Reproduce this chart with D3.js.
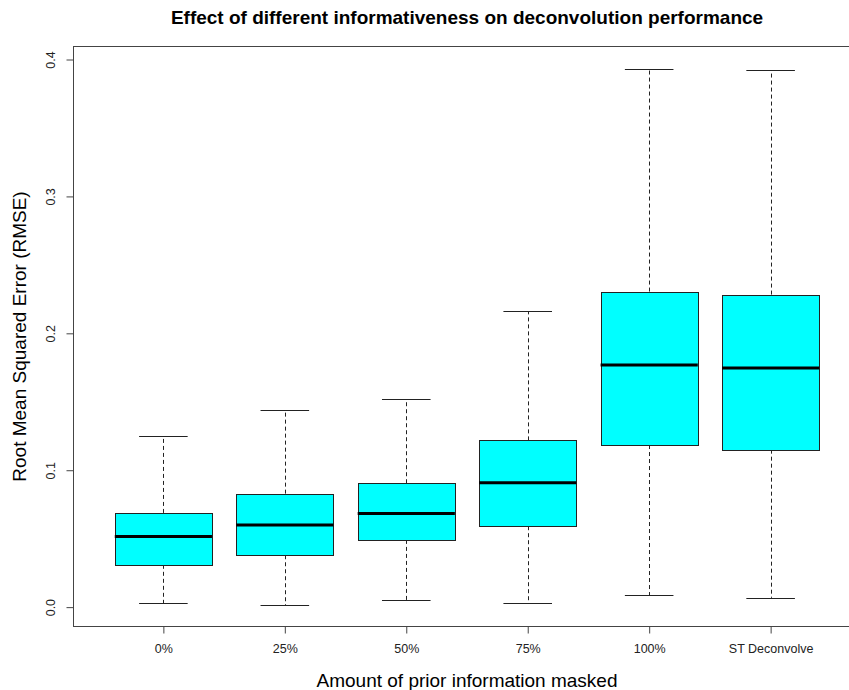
<!DOCTYPE html>
<html>
<head>
	<meta charset="utf-8">
	<title>Informativeness boxplot</title>
	<style>
		body { margin: 0; background: white; }
		svg text { font-family: "Liberation Sans", Arial, sans-serif; }
	</style>
</head>
<body>
<div id="chart"></div>

<script src="https://d3js.org/d3.v7.min.js"></script>
<script>

	// data
	var groups    = ['0%', '25%', '50%', '75%', '100%', 'ST Deconvolve'];
	var lowWhisk  = [0.0029, 0.0015, 0.0051, 0.0029, 0.0088, 0.0068];
	var q1        = [0.0309, 0.0379, 0.0491, 0.0591, 0.1184, 0.1150];
	var medians   = [0.0515, 0.0600, 0.0683, 0.0909, 0.1768, 0.1746];
	var q3        = [0.0688, 0.0829, 0.0905, 0.1218, 0.2305, 0.2283];
	var highWhisk = [0.1250, 0.1437, 0.1517, 0.2162, 0.3932, 0.3922];
	var yTicks    = [0.0, 0.1, 0.2, 0.3, 0.4];

	var width = 849;
	var height = 690;

	var plotLeft = 73.5, plotRight = 860.5, plotTop = 46.5, plotBottom = 626.5;

	var svg = d3.select('#chart')
		.append('svg')
		.attr('width', width)
		.attr('height', height);

	svg.append('rect')
		.attr('width', width)
		.attr('height', height)
		.attr('fill', 'white');

	// R style: group i sits at x = i, xlim 0.5..6.5 plus 4%
	var x = d3.scaleLinear()
		.domain([0.26, 6.74])
		.range([plotLeft, plotRight]);

	var y = d3.scaleLinear()
		.domain([-0.01415, 0.4095])
		.range([plotBottom, plotTop]);

	var boxes = groups.map(function(g, i){
		return {
			name: g,
			pos: i + 1,
			lo: lowWhisk[i],
			q1: q1[i],
			med: medians[i],
			q3: q3[i],
			hi: highWhisk[i]
		};
	});

	var halfBox = (x(1.4) - x(1)) ;
	var halfCap = halfBox / 2;

	var g = svg.append('g');

	var box = g.selectAll('.box')
		.data(boxes)
		.enter()
		.append('g')
		.attr('class', 'box');

	// whiskers (dashed)
	box.append('line')
		.attr('x1', function(d){ return Math.round(x(d.pos)) + 0.5 })
		.attr('x2', function(d){ return Math.round(x(d.pos)) + 0.5 })
		.attr('y1', function(d){ return y(d.q3) })
		.attr('y2', function(d){ return y(d.hi) })
		.attr('stroke', '#222')
		.attr('stroke-dasharray', '4,3');

	box.append('line')
		.attr('x1', function(d){ return Math.round(x(d.pos)) + 0.5 })
		.attr('x2', function(d){ return Math.round(x(d.pos)) + 0.5 })
		.attr('y1', function(d){ return y(d.q1) })
		.attr('y2', function(d){ return y(d.lo) })
		.attr('stroke', '#222')
		.attr('stroke-dasharray', '4,3');

	// staples
	box.append('line')
		.attr('x1', function(d){ return x(d.pos) - halfCap })
		.attr('x2', function(d){ return x(d.pos) + halfCap })
		.attr('y1', function(d){ return Math.round(y(d.hi)) + 0.5 })
		.attr('y2', function(d){ return Math.round(y(d.hi)) + 0.5 })
		.attr('stroke', '#222');

	box.append('line')
		.attr('x1', function(d){ return x(d.pos) - halfCap })
		.attr('x2', function(d){ return x(d.pos) + halfCap })
		.attr('y1', function(d){ return Math.round(y(d.lo)) + 0.5 })
		.attr('y2', function(d){ return Math.round(y(d.lo)) + 0.5 })
		.attr('stroke', '#222');

	// box
	box.append('rect')
		.attr('x', function(d){ return Math.round(x(d.pos) - halfBox) + 0.5 })
		.attr('y', function(d){ return Math.round(y(d.q3)) + 0.5 })
		.attr('width', Math.round(2 * halfBox))
		.attr('height', function(d){ return Math.round(y(d.q1)) - Math.round(y(d.q3)) })
		.attr('fill', '#00ffff')
		.attr('stroke', '#222')
		.attr('stroke-width', 1);

	// median
	box.append('line')
		.attr('x1', function(d){ return x(d.pos) - halfBox })
		.attr('x2', function(d){ return x(d.pos) + halfBox })
		.attr('y1', function(d){ return y(d.med) })
		.attr('y2', function(d){ return y(d.med) })
		.attr('stroke', 'black')
		.attr('stroke-width', 3);

	// frame
	svg.append('rect')
		.attr('x', plotLeft)
		.attr('y', plotTop)
		.attr('width', plotRight - plotLeft)
		.attr('height', plotBottom - plotTop)
		.attr('fill', 'none')
		.attr('stroke', '#444');

	// y axis (R style, labels parallel to the axis)
	var yAxis = svg.append('g')
		.attr('transform', 'translate(' + plotLeft + ',0)')
		.call(d3.axisLeft(y).tickValues(yTicks).tickFormat(d3.format('.1f')).tickSize(7).tickPadding(0));

	yAxis.select('.domain').remove();
	yAxis.selectAll('.tick line').attr('stroke', '#444');
	yAxis.selectAll('.tick text')
		.attr('transform', 'translate(-23,0) rotate(-90)')
		.attr('x', 0)
		.attr('dy', '0.35em')
		.attr('text-anchor', 'middle')
		.attr('font-size', 12.5)
		.attr('font-family', '"Liberation Sans", Arial, sans-serif')
		.attr('fill', '#222');

	// x axis
	var xAxis = svg.append('g')
		.attr('transform', 'translate(0,' + plotBottom + ')')
		.call(d3.axisBottom(x).tickValues(d3.range(1, groups.length + 1))
			.tickFormat(function(d){ return groups[d - 1] })
			.tickSize(7).tickPadding(11));

	xAxis.select('.domain').remove();
	xAxis.selectAll('.tick line').attr('stroke', '#444');
	xAxis.selectAll('.tick text')
		.attr('font-size', 12.5)
		.attr('font-family', '"Liberation Sans", Arial, sans-serif')
		.attr('fill', '#222');

	var mid = (plotLeft + plotRight) / 2;

	svg.append('text')
		.attr('x', mid)
		.attr('y', 24)
		.attr('text-anchor', 'middle')
		.attr('font-size', 19)
		.attr('font-weight', 'bold')
		.attr('fill', 'black')
		.text('Effect of different informativeness on deconvolution performance');

	svg.append('text')
		.attr('x', mid)
		.attr('y', 687)
		.attr('text-anchor', 'middle')
		.attr('font-size', 19)
		.attr('fill', 'black')
		.text('Amount of prior information masked');

	svg.append('text')
		.attr('transform', 'translate(26,' + ((plotTop + plotBottom) / 2) + ') rotate(-90)')
		.attr('text-anchor', 'middle')
		.attr('font-size', 19)
		.attr('fill', 'black')
		.text('Root Mean Squared Error (RMSE)');

</script>
</body>
</html>
